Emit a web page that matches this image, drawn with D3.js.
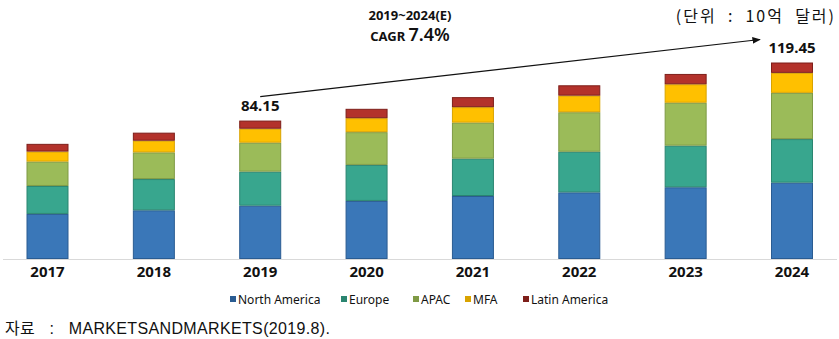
<!DOCTYPE html>
<html>
<head>
<meta charset="utf-8">
<script src="https://cdn.jsdelivr.net/npm/d3@7"></script>
<style>
  body { margin: 0; background: #fff; }
  svg { display: block; }
  .pre { white-space: pre; }
</style>
</head>
<body>
<div id="chart"></div>
<script>
// market size by region, unit: 10억 달러
const years = ["2017", "2018", "2019", "2020", "2021", "2022", "2023", "2024"];
const regions = ["North America", "Europe", "APAC", "MFA", "Latin America"];
const northAmerica = [27.4, 29.6, 32.4, 35.3, 38.3, 40.5, 43.6, 46.4];
const europe       = [17.0, 19.0, 20.7, 21.9, 22.7, 24.7, 25.3, 26.5];
const apac         = [14.8, 16.2, 17.6, 19.9, 21.9, 24.0, 26.1, 28.1];
const mfa          = [6.1, 7.1, 8.5, 8.5, 9.4, 10.1, 11.2, 12.15];
const latinAmerica = [4.7, 4.9, 4.95, 5.7, 6.1, 6.3, 6.3, 6.3];
const colors = ["#3a77b8", "#38a68e", "#9bbb59", "#ffc000", "#b3322b"];
const strokes = ["#2a5c92", "#2a8570", "#7f9a45", "#d9a300", "#7e1f1a"];
const cagrFrom = "2019", cagrTo = "2024";

const w = 839, h = 339;
const svg = d3.select("#chart").append("svg")
  .attr("width", w)
  .attr("height", h);

const rows = years.map((y, i) => ({
  year: y,
  "North America": northAmerica[i],
  "Europe": europe[i],
  "APAC": apac[i],
  "MFA": mfa[i],
  "Latin America": latinAmerica[i]
}));
const series = d3.stack().keys(regions)(rows);
const totals = rows.map(r => d3.sum(regions, k => r[k]));

const x = d3.scalePoint().domain(years).range([47.5, 792]);
const y = d3.scaleLinear().domain([0, 100]).range([259, 94.5]);
const barW = 42;

// baseline
svg.append("line")
  .attr("x1", 3).attr("x2", 837)
  .attr("y1", 259.5).attr("y2", 259.5)
  .attr("stroke", "#d9d9d9")
  .attr("stroke-width", 1.2);

svg.selectAll("g.layer")
  .data(series)
  .enter()
  .append("g")
  .attr("class", "layer")
  .attr("fill", (d, i) => colors[i])
  .attr("stroke", (d, i) => strokes[i])
  .selectAll("rect")
  .data(d => d)
  .enter()
  .append("rect")
  .attr("x", d => x(d.data.year) - barW / 2 + 0.5)
  .attr("y", d => y(d[1]) + 0.5)
  .attr("width", barW - 1)
  .attr("height", d => y(d[0]) - y(d[1]) - 1)
  .attr("stroke-width", 1);

// year labels
svg.selectAll("text.year")
  .data(years)
  .enter()
  .append("text")
  .attr("class", "year")
  .attr("x", d => x(d))
  .attr("y", 277)
  .attr("text-anchor", "middle")
  .attr("font-family", "'Noto Sans', sans-serif")
  .attr("font-weight", "bold")
  .attr("font-size", "15px")
  .attr("fill", "#111")
  .text(d => d);

// totals for the CAGR endpoints
const iFrom = years.indexOf(cagrFrom), iTo = years.indexOf(cagrTo);
[iFrom, iTo].forEach(i => {
  svg.append("text")
    .attr("x", x(years[i]))
    .attr("y", y(totals[i]) - 10)
    .attr("text-anchor", "middle")
    .attr("font-family", "'Noto Sans', sans-serif")
    .attr("font-weight", "bold")
    .attr("font-size", "15px")
    .attr("fill", "#111")
    .text(totals[i].toFixed(2));
});

// CAGR arrow
svg.append("defs").append("marker")
  .attr("id", "arrow")
  .attr("viewBox", "0 0 10 10")
  .attr("refX", 9).attr("refY", 5)
  .attr("markerWidth", 7).attr("markerHeight", 7)
  .attr("orient", "auto")
  .append("path")
  .attr("d", "M0,1 L10,5 L0,9 Z")
  .attr("fill", "#111");

svg.append("line")
  .attr("x1", x(cagrFrom)).attr("y1", y(totals[iFrom]) - 24)
  .attr("x2", x(cagrTo) - 32).attr("y2", y(totals[iTo]) - 23)
  .attr("stroke", "#111")
  .attr("stroke-width", 1.2)
  .attr("marker-end", "url(#arrow)");

svg.append("text")
  .attr("x", 410)
  .attr("y", 20)
  .attr("text-anchor", "middle")
  .attr("font-family", "'Noto Sans', sans-serif")
  .attr("font-weight", "bold")
  .attr("font-size", "13px")
  .attr("fill", "#111")
  .text("2019~2024(E)");

const cagr = svg.append("text")
  .attr("x", 410)
  .attr("y", 41)
  .attr("text-anchor", "middle")
  .attr("font-family", "'Noto Sans', sans-serif")
  .attr("font-weight", "bold")
  .attr("fill", "#111");
cagr.append("tspan").attr("font-size", "13px").text("CAGR ");
cagr.append("tspan").attr("font-size", "18px").attr("font-weight", "600").text("7.4%");

// unit
svg.append("text")
  .attr("class", "pre")
  .attr("x", 836)
  .attr("y", 22)
  .attr("text-anchor", "end")
  .attr("font-family", "'Noto Sans CJK KR', sans-serif")
  .attr("font-size", "16px")
  .attr("letter-spacing", "2px")
  .attr("fill", "#111")
  .text("(단위  :  10억  달러)");

// legend
const legendX = [230, 341, 413, 465, 523];
const legend = svg.selectAll("g.legend")
  .data(regions)
  .enter()
  .append("g")
  .attr("class", "legend")
  .attr("transform", (d, i) => "translate(" + legendX[i] + ",300)");

legend.append("rect")
  .attr("x", 0).attr("y", -4)
  .attr("width", 6).attr("height", 6)
  .attr("fill", (d, i) => strokes[i]);

legend.append("text")
  .attr("x", 8)
  .attr("y", 4)
  .attr("font-family", "'Noto Sans', sans-serif")
  .attr("font-size", "12px")
  .attr("fill", "#111")
  .text(d => d);

// source
svg.append("text")
  .attr("class", "pre")
  .attr("x", 5)
  .attr("y", 334)
  .attr("font-family", "'Liberation Sans', 'Noto Sans CJK KR', sans-serif")
  .attr("font-size", "16px")
  .attr("letter-spacing", "0.35px")
  .attr("fill", "#111")
  .text("자료   :   MARKETSANDMARKETS(2019.8).");
</script>
</body>
</html>
